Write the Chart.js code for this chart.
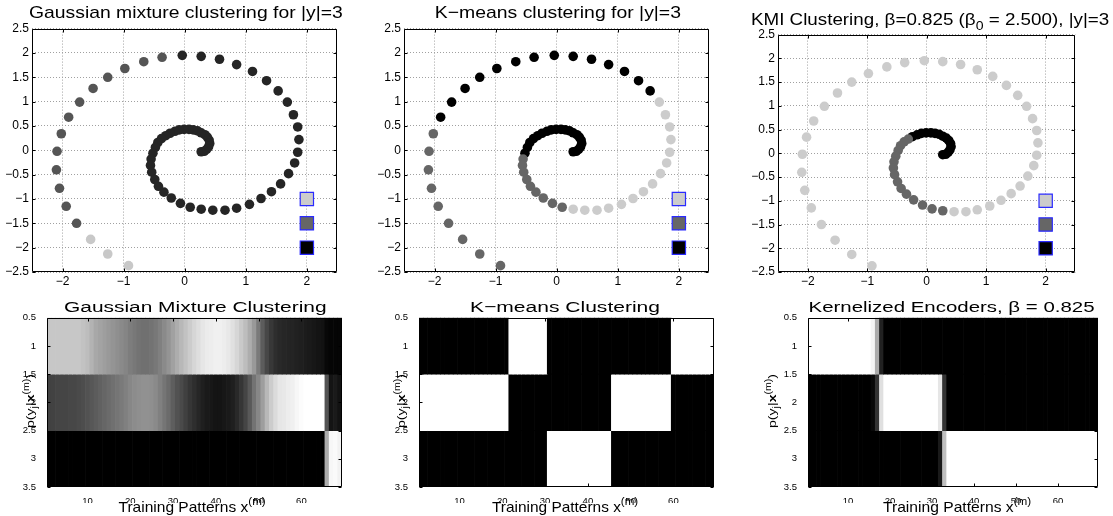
<!DOCTYPE html>
<html><head><meta charset="utf-8">
<script src="https://cdn.jsdelivr.net/npm/chart.js@4.4.1/dist/chart.umd.min.js"></script>
<style>
html,body{margin:0;padding:0;background:#fff;width:1113px;height:516px;overflow:hidden;position:relative;}
canvas{position:absolute;}
.lbl{position:absolute;white-space:nowrap;line-height:1;color:#000;z-index:5;font-family:"Liberation Sans",Arial,Helvetica,sans-serif;}
.lbl sub{line-height:0;font-size:0.75em;vertical-align:-0.4em;}
.lbl sup{line-height:0;font-size:0.75em;vertical-align:0.6em;}
.bm{display:inline-block;width:0;height:0;vertical-align:baseline;}
</style></head><body>
<script>
// ---------------- DATA ----------------
const patternIndex = [1,2,3,4,5,6,7,8,9,10,11,12,13,14,15,16,17,18,19,20,21,22,23,24,25,26,27,28,29,30,31,32,33,34,35,36,37,38,39,40,41,42,43,44,45,46,47,48,49,50,51,52,53,54,55,56,57,58,59,60,61,62,63,64,65,66,67,68,69];

const spiralX = [0.27,0.32,0.36,0.39,0.41,0.40,0.37,0.33,0.27,0.21,
  0.14,0.07,-0.01,-0.09,-0.16,-0.24,-0.31,-0.38,-0.44,-0.48,
  -0.52,-0.55,-0.56,-0.54,-0.49,-0.43,-0.34,-0.22,-0.07,0.09,
  0.27,0.46,0.66,0.85,1.06,1.25,1.42,1.57,1.70,1.80,
  1.85,1.87,1.85,1.78,1.68,1.53,1.34,1.11,0.85,0.57,
  0.27,-0.04,-0.37,-0.67,-0.98,-1.26,-1.50,-1.72,-1.90,-2.02,
  -2.09,-2.10,-2.05,-1.94,-1.77,-1.54,-1.26,-0.92,-0.55];
const spiralY = [-0.03,-0.02,0.02,0.07,0.14,0.21,0.27,0.32,0.36,0.40,
  0.42,0.43,0.43,0.42,0.39,0.35,0.30,0.24,0.16,0.06,
  -0.06,-0.18,-0.31,-0.45,-0.60,-0.74,-0.86,-0.98,-1.09,-1.17,
  -1.21,-1.23,-1.23,-1.19,-1.11,-0.99,-0.85,-0.69,-0.48,-0.26,
  -0.04,0.22,0.48,0.73,0.99,1.22,1.43,1.62,1.76,1.87,
  1.93,1.95,1.91,1.82,1.68,1.50,1.27,0.99,0.68,0.34,
  -0.02,-0.40,-0.78,-1.15,-1.50,-1.83,-2.13,-2.37,-2.64];

// hard assignments shown in the top panels
const gmmCluster = [1,1,1,1,1,1,1,1,1,1, 1,1,1,1,1,1,1,1,1,1, 1,1,1,1,1,1,1,1,1,1, 1,1,1,1,1,1,1,1,1,1,
  1,1,1,1,1,1,1,1,1,1, 1,1,2,2,2,2,2,2,2,2, 2,2,2,2,2,3,3,3,3];
const kmeansCluster = [2,2,2,2,2,2,2,2,2,2, 2,2,2,2,2,2,2,2,2,2, 2,1,1,1,1,1,1,1,1,1,
  3,3,3,3,3,3,3,3,3,3, 3,3,3,3,3,2,2,2,2,2, 2,2,2,2,2,2,2,2,2,1, 1,1,1,1,1,1,1,1,1];
const kmiCluster = [1,1,1,1,1,1,1,1,1,1, 1,1,1,1,1,1,2,2,2,2, 2,2,2,2,2,2,2,2,2,2,
  2,3,3,3,3,3,3,3,3,3, 3,3,3,3,3,3,3,3,3,3, 3,3,3,3,3,3,3,3,3,3, 3,3,3,3,3,3,3,3,3];

// prototypes (squares)
const prototypeX = [2,2,2];
const prototypeY = [-1,-1.5,-2];

// soft assignments p(y_j|x^(m)) shown in the bottom panels
const gmmProb1 = [0.78,0.78,0.78,0.78,0.78,0.78,0.78,0.78,0.76,0.74,
  0.70,0.66,0.64,0.62,0.60,0.58,0.56,0.54,0.52,0.49,
  0.47,0.45,0.44,0.44,0.45,0.47,0.50,0.54,0.58,0.63,
  0.68,0.72,0.76,0.80,0.84,0.87,0.90,0.92,0.93,0.94,
  0.94,0.93,0.91,0.88,0.84,0.79,0.74,0.68,0.60,0.48,
  0.36,0.28,0.22,0.18,0.16,0.15,0.14,0.14,0.13,0.12,
  0.11,0.10,0.09,0.08,0.07,0.03,0.02,0.02,0.02];
const gmmProb2 = [0.26,0.26,0.27,0.27,0.27,0.28,0.28,0.29,0.30,0.32,
  0.34,0.36,0.38,0.40,0.42,0.44,0.46,0.48,0.50,0.53,
  0.55,0.56,0.57,0.57,0.56,0.54,0.50,0.46,0.42,0.37,
  0.32,0.29,0.25,0.21,0.18,0.15,0.12,0.10,0.09,0.08,
  0.08,0.09,0.10,0.12,0.16,0.21,0.27,0.35,0.45,0.53,
  0.62,0.72,0.80,0.86,0.90,0.91,0.93,0.94,0.97,0.99,
  1.00,1.00,1.00,1.00,1.00,0.33,0.08,0.10,0.07];
const gmmProb3 = [0,0,0,0,0,0,0,0,0,0, 0,0,0,0,0,0,0,0,0,0, 0,0,0,0,0,0,0,0,0,0,
  0,0,0,0,0,0,0,0,0,0, 0,0,0,0,0,0,0,0,0,0, 0,0,0,0,0,0,0,0,0,0,
  0,0,0,0,0,0.68,0.97,0.98,0.95];
const kmiProb1 = [1,1,1,1,1,1,1,1,1,1, 1,1,1,1,1,0.96,0.67,0.13,0,0, 0,0,0,0,0,0,0,0,0,0,
  0,0,0,0,0,0,0,0,0,0, 0,0,0,0,0,0,0,0,0,0, 0,0,0,0,0,0,0,0,0,0, 0,0,0,0,0,0,0,0,0];
const kmiProb2 = [0,0,0,0,0,0,0,0,0,0, 0,0,0,0,0,0.03,0.20,0.88,1,1, 1,1,1,1,1,1,1,1,1,1,
  1,0.90,0.20,0,0,0,0,0,0,0, 0,0,0,0,0,0,0,0,0,0, 0,0,0,0,0,0,0,0,0,0, 0,0,0,0,0,0,0,0,0];
const kmiProb3 = [0,0,0,0,0,0,0,0,0,0, 0,0,0,0,0,0,0,0,0,0, 0,0,0,0,0,0,0,0,0,0,
  0,0.10,0.75,1,1,1,1,1,1,1, 1,1,1,1,1,1,1,1,1,1, 1,1,1,1,1,1,1,1,1,1, 1,1,1,1,1,1,1,1,1];

// tick labels
const topXTicks = [-2,-1,0,1,2];
const topYTicks = [-2.5,-2,-1.5,-1,-0.5,0,0.5,1,1.5,2,2.5];
const heatXTicks = [10,20,30,40,50,60];
const heatYTicks = [0.5,1,1.5,2,2.5,3,3.5];

// ---------------- STYLE ----------------
const FONT = '"Liberation Sans", Arial, Helvetica, sans-serif';
const protoColors = ['#cccccc','#666666','#000000'];
const gmmPalette = {1:'#252525', 2:'#555555', 3:'#c8c8c8'};
const kmeansPalette = {1:'#666666', 2:'#000000', 3:'#cccccc'};
const kmiPalette = {1:'#000000', 2:'#666666', 3:'#cccccc'};

const gray = v => { const g = Math.round(Math.max(0, Math.min(1, v)) * 255); return 'rgb(' + g + ',' + g + ',' + g + ')'; };
const fmtTick = v => { let r = Math.round(v * 100) / 100; if (Object.is(r, -0)) r = 0; return String(r).replace('-', '\u2212'); };

const framePlugin = {
  id: 'frame',
  afterDatasetsDraw(chart) {
    const {ctx, chartArea: a, scales} = chart;
    const L = Math.round(a.left) + 0.5, R = Math.round(a.right) - 0.5;
    const T = Math.round(a.top) + 0.5, B = Math.round(a.bottom) - 0.5;
    const tl = 3;
    ctx.save();
    ctx.strokeStyle = '#000';
    ctx.lineWidth = 1;
    ctx.beginPath();
    ctx.rect(L, T, R - L, B - T);
    scales.x.ticks.forEach(t => {
      const px = Math.round(scales.x.getPixelForValue(t.value)) + 0.5;
      ctx.moveTo(px, B); ctx.lineTo(px, B - tl);
      ctx.moveTo(px, T); ctx.lineTo(px, T + tl);
    });
    scales.y.ticks.forEach(t => {
      const py = Math.round(scales.y.getPixelForValue(t.value)) + 0.5;
      ctx.moveTo(L, py); ctx.lineTo(L + tl, py);
      ctx.moveTo(R, py); ctx.lineTo(R - tl, py);
    });
    ctx.stroke();
    ctx.restore();
  }
};

function makeCanvas(left, top, w, h) {
  const c = document.createElement('canvas');
  c.style.left = left + 'px'; c.style.top = top + 'px';
  c.style.width = w + 'px'; c.style.height = h + 'px';
  c.width = w; c.height = h;
  document.body.appendChild(c);
  return c;
}

function scatterPanel(p, cluster, palette) {
  const yW = 32, padT = 10, padR = 6, xH = 20;
  const c = makeCanvas(p.L - yW, p.T - padT, yW + p.W + padR, padT + p.H + xH);
  new Chart(c, {
    type: 'scatter',
    data: { datasets: [
      { data: spiralX.map((x, i) => ({x: x, y: spiralY[i]})),
        pointBackgroundColor: cluster.map(k => palette[k]),
        pointRadius: 4.8, pointHoverRadius: 4.8, pointBorderWidth: 0, clip: 0 },
      { data: prototypeX.map((x, i) => ({x: x, y: prototypeY[i]})),
        pointStyle: 'rect', pointRadius: 9.4, pointHoverRadius: 9.4,
        pointBackgroundColor: protoColors, pointBorderColor: '#2a2aff', pointBorderWidth: 1.2, clip: 0 }
    ]},
    options: {
      responsive: false, animation: false, events: [],
      layout: { padding: { top: padT, right: padR, left: 0, bottom: 0 } },
      plugins: { legend: { display: false }, tooltip: { enabled: false } },
      scales: {
        x: { type: 'linear', min: -2.5, max: 2.5,
          afterBuildTicks: s => { s.ticks = topXTicks.map(v => ({value: v})); },
          afterFit: s => { s.height = xH; },
          grid: { color: '#a0a0a0', lineWidth: 1, drawTicks: false },
          border: { display: false, dash: [1, 2] },
          ticks: { color: '#000', font: { family: FONT, size: 12 }, padding: 2, maxRotation: 0, autoSkip: false, callback: v => fmtTick(v) } },
        y: { type: 'linear', min: -2.5, max: 2.5,
          afterBuildTicks: s => { s.ticks = topYTicks.map(v => ({value: v})); },
          afterFit: s => { s.width = yW; },
          grid: { color: '#a0a0a0', lineWidth: 1, drawTicks: false },
          border: { display: false, dash: [1, 2] },
          ticks: { color: '#000', font: { family: FONT, size: 12 }, padding: 3, autoSkip: false, callback: v => fmtTick(v) } }
      }
    },
    plugins: [framePlugin]
  });
}

function heatPanel(p, rows) {
  const yW = 35, padT = 8, padR = 6, xH = 16;
  const c = makeCanvas(p.L - yW, p.T - padT, yW + p.W + padR, padT + p.H + xH);
  new Chart(c, {
    type: 'bar',
    data: { datasets: rows.map((vals, r) => ({
      data: patternIndex.map(k => ({x: k, y: [r + 0.5, r + 1.5]})),
      backgroundColor: vals.map(gray),
      borderWidth: 0, grouped: false, barPercentage: 1, categoryPercentage: 1
    })) },
    options: {
      responsive: false, animation: false, events: [],
      layout: { padding: { top: padT, right: padR, left: 0, bottom: 0 } },
      plugins: { legend: { display: false }, tooltip: { enabled: false } },
      scales: {
        x: { type: 'linear', min: 0.5, max: 69.5, offset: false,
          afterBuildTicks: s => { s.ticks = heatXTicks.map(v => ({value: v})); },
          afterFit: s => { s.height = xH; },
          grid: { display: false, offset: false },
          border: { display: false },
          ticks: { color: '#000', font: { family: FONT, size: 9.5 }, padding: 1, maxRotation: 0, autoSkip: false, callback: v => fmtTick(v) } },
        y: { type: 'linear', min: 0.5, max: 3.5, reverse: true, beginAtZero: false,
          afterBuildTicks: s => { s.ticks = heatYTicks.map(v => ({value: v})); },
          afterFit: s => { s.width = yW; },
          grid: { display: false },
          border: { display: false },
          ticks: { color: '#000', font: { family: FONT, size: 9.5 }, padding: 3, autoSkip: false, callback: v => fmtTick(v) } }
      }
    },
    plugins: [framePlugin]
  });
}

// panel plot areas
scatterPanel({L: 32, T: 28, W: 310, H: 244}, gmmCluster, gmmPalette);
scatterPanel({L: 404, T: 28, W: 310, H: 244}, kmeansCluster, kmeansPalette);
scatterPanel({L: 778, T: 34, W: 302, H: 238}, kmiCluster, kmiPalette);

const kmeansRows = [1, 2, 3].map(r => kmeansCluster.map(k => (k === r ? 1 : 0)));
heatPanel({L: 47, T: 317, W: 295, H: 170}, [gmmProb1, gmmProb2, gmmProb3]);
heatPanel({L: 419, T: 317, W: 295, H: 170}, kmeansRows);
heatPanel({L: 808, T: 317, W: 290, H: 170}, [kmiProb1, kmiProb2, kmiProb3]);

// ---------------- TEXT ----------------
function placeText(o) {
  const el = document.createElement('div');
  el.className = 'lbl';
  el.style.fontSize = o.size + 'px';
  el.innerHTML = '<span class="bm"></span>' + o.html;
  document.body.appendChild(el);
  const w = el.offsetWidth;
  const b = el.querySelector('.bm').offsetTop;
  const sx = o.width ? o.width / w : 1;
  el.style.transformOrigin = (w / 2) + 'px ' + b + 'px';
  if (!o.rotate) {
    el.style.left = (o.cx - w / 2) + 'px';
    el.style.top = (o.baseline - b) + 'px';
    el.style.transform = 'scaleX(' + sx + ')';
  } else {
    el.style.left = (o.bx - w / 2) + 'px';
    el.style.top = (o.cy - b) + 'px';
    el.style.transform = 'rotate(-90deg) scaleX(' + sx + ')';
  }
}

placeText({html: 'Gaussian mixture clustering for |y|=3', cx: 186, baseline: 18.3, size: 17, width: 314});
placeText({html: 'K\u2212means clustering for |y|=3', cx: 558.3, baseline: 18.3, size: 17, width: 246.5});
placeText({html: 'KMI Clustering, \u03b2=0.825 (\u03b2<sub>0</sub> = 2.500), |y|=3', cx: 930, baseline: 24.5, size: 17, width: 358});
placeText({html: 'Gaussian Mixture Clustering', cx: 195, baseline: 311.7, size: 15.5, width: 263});
placeText({html: 'K\u2212means Clustering', cx: 565, baseline: 311.7, size: 15.5, width: 190});
placeText({html: 'Kernelized Encoders, \u03b2 = 0.825', cx: 951.7, baseline: 311.7, size: 15.5, width: 286});
placeText({html: 'Training Patterns x<sup>(m)</sup>', cx: 191.5, baseline: 512, size: 15, width: 147});
placeText({html: 'Training Patterns x<sup>(m)</sup>', cx: 565, baseline: 512, size: 15, width: 146});
placeText({html: 'Training Patterns x<sup>(m)</sup>', cx: 957, baseline: 512, size: 15, width: 148});
const yLab = 'p(y<sub>j</sub>|<b>x</b><sup>(m)</sup>)';
placeText({html: yLab, bx: 34, cy: 401, size: 11.5, width: 54, rotate: true});
placeText({html: yLab, bx: 404.5, cy: 401, size: 11.5, width: 54, rotate: true});
placeText({html: yLab, bx: 775.5, cy: 401, size: 11.5, width: 54, rotate: true});
</script>
</body></html>
